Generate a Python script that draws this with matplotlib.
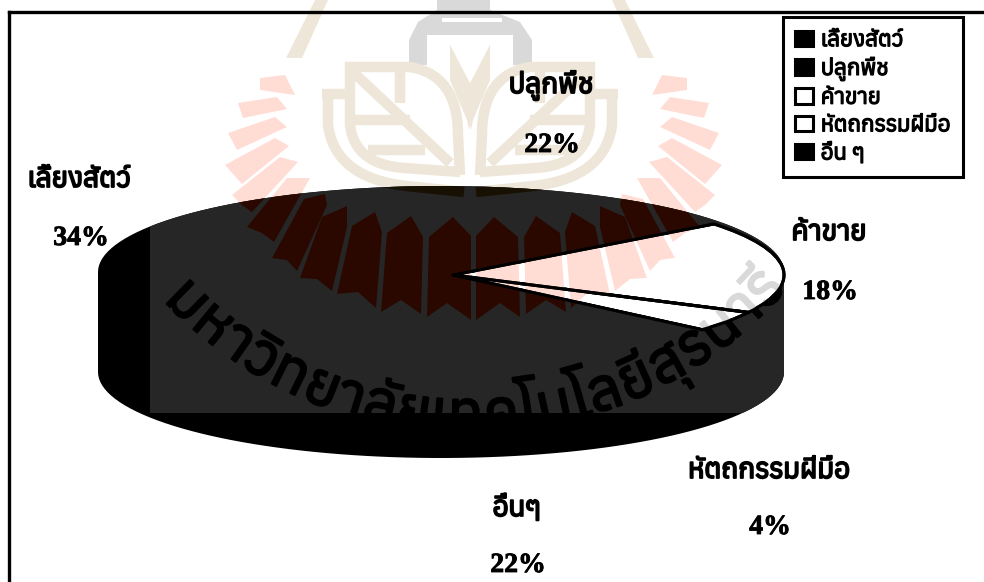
import numpy as np
import matplotlib
matplotlib.use('Agg')
import matplotlib.pyplot as plt
import matplotlib.patheffects as pe
from matplotlib import font_manager as fm
from matplotlib.ft2font import FT2Font
from matplotlib.patches import PathPatch, Polygon, Rectangle
from matplotlib.path import Path
from matplotlib.textpath import text_to_path
from matplotlib.transforms import Affine2D

# data
categories = ['เลี้ยงสัตว์', 'ปลูกพืช', 'ค้าขาย', 'หัตถกรรมฝีมือ', 'อื่น ๆ']
shares = [34, 22, 18, 4, 22]
colors = ['black', 'black', 'white', 'white', 'black']
name_labels = ['เลี้ยงสัตว์', 'ปลูกพืช', 'ค้าขาย', 'หัตถกรรมฝีมือ', 'อื่นๆ']
pct_labels = ['34%', '22%', '18%', '4%', '22%']
watermark = ['ม', 'ห', 'า', 'วิ', 'ท', 'ย', 'า', 'ลั', 'ย', 'เ', 'ท', 'ค', 'โ', 'น', 'โ', 'ล', 'ยี', 'สุ', 'ร', 'น', 'า', 'รี']

# a Thai font if there is one, the serif otherwise
thai = []
for f in fm.fontManager.ttflist:
    try:
        if 0x0E40 in FT2Font(f.fname).get_charmap():
            thai.append(f.name)
    except Exception:
        pass
thai = sorted(set(thai))[:1]
plt.rcParams['font.family'] = thai + ['Liberation Serif', 'DejaVu Sans']

fig = plt.figure(figsize=(9.84, 5.82), dpi=100)
ax = fig.add_axes([0, 0, 1, 1])

# pie drawn on a unit circle, then squashed into the ellipse of the top face
wedges, _ = ax.pie(shares, colors=colors, startangle=239.6, counterclock=False,
                   wedgeprops={'edgecolor': 'black', 'linewidth': 2.2})
squeeze = Affine2D().scale(331, -83).translate(453, 275)
squash = squeeze + ax.transData
for w, c in zip(wedges, colors):
    w.set_transform(squash)
    w.set_zorder(0.5 if c == 'white' else 2)
ax.set_aspect('auto')
ax.set_xlim(0, 984)
ax.set_ylim(582, 0)
ax.set_axis_off()


def area(p):
    x, y = p[:, 0], p[:, 1]
    return np.dot(x[:-1], y[1:]) - np.dot(x[1:], y[:-1])


# drum body, with the white slices cut out so the light watermark shows through them
t = np.linspace(np.pi, 2 * np.pi, 80)
top = np.c_[441 + 343 * np.cos(t), 272 + 86 * np.sin(t)]
bot = np.c_[441 + 343 * np.cos(t[::-1]), 372 - 86 * np.sin(t[::-1])]
shell = np.r_[top, bot, top[:1]]
parts = [Path(shell, closed=True)]
for w, c in zip(wedges, colors):
    if c == 'white':
        for poly in squeeze.transform_path(w.get_path()).to_polygons():
            # slice edge stays above the watermark
            ax.plot(poly[:, 0], poly[:, 1], color='black', lw=2.2, zorder=7)
            if np.sign(area(poly)) == np.sign(area(shell)):
                poly = poly[::-1]
            parts.append(Path(poly, closed=True))
body = PathPatch(Path.make_compound_path(*parts), fc='black', ec='none', zorder=2)
ax.add_patch(body)
shade = Rectangle((150, 0), 700, 413, fc='#262626', ec='none', zorder=3)
ax.add_patch(shade)
shade.set_clip_path(body)

# logo of the scan watermark
rays = [
    [(260, 78), (285, 75), (295, 95), (260, 90)],
    [(238, 103), (277, 97), (287, 109), (243, 118)],
    [(228, 133), (275, 117), (287, 127), (237, 150)],
    [(225, 165), (275, 138), (289, 146), (242, 184)],
    [(232, 195), (280, 157), (298, 162), (252, 212), (242, 205)],
    [(247, 227), (287, 178), (310, 178), (274, 242), (262, 233)],
    [(304, 199), (325, 194), (327, 205), (297, 271), (287, 260), (272, 258)],
    [(322, 217), (347, 206), (347, 227), (332, 291), (317, 279), (300, 278)],
    [(352, 226), (375, 212), (382, 232), (376, 308), (358, 292), (337, 294)],
    [(387, 233), (411, 216), (423, 237), (421, 314), (401, 300), (381, 312)],
    [(429, 237), (453, 217), (471, 236), (471, 320), (447, 303), (427, 317)],
]
spike = [(450, 45), (469, 85), (490, 45), (490, 80), (473, 120), (471, 130), (469, 120), (450, 80)]
roof = [(286, 58), (302, 58), (328, 0), (315, 0)]
bottle = [(437, 0), (490, 0), (490, 10), (520, 22), (532, 40), (532, 65), (513, 65), (513, 35),
          (427, 35), (427, 65), (409, 65), (409, 40), (418, 22), (437, 10)]
slit = [(442, 18), (502, 18), (502, 22), (442, 22)]


def bend(p0, c, p1):
    s = np.linspace(0, 1, 20)[:, None]
    return (1 - s) ** 2 * np.array(p0) + 2 * s * (1 - s) * np.array(c) + s ** 2 * np.array(p1)


leaf_lines = [
    np.array([(322, 94), (345, 94)], float),
    np.r_[[(328, 94)], bend((328, 125), (335, 178), (407, 186)), [(464, 192)]],
    np.r_[[(345, 67), (410, 67)], bend((410, 67), (458, 75), (458, 135)), [(460, 175)]],
    np.r_[[(350, 62)], bend((350, 125), (355, 165), (405, 168)), [(460, 172)]],
    np.array([(353, 72), (450, 163)], float),
    np.array([(355, 120), (410, 120)], float),
    np.array([(368, 150), (425, 150)], float),
    np.array([(400, 72), (400, 103)], float),
]

# arc of the university name, spaced by the width of each character
fp = fm.FontProperties(family=plt.rcParams['font.family'], size=42)
widths = np.array([text_to_path.get_text_width_height_descent(ch, fp, False)[0] for ch in watermark])
edges = np.r_[0, np.cumsum(widths)]
mids = (edges[:-1] + edges[1:]) / 2
arc_angles = -47 + 96 * mids / edges[-1]


def draw_logo(z, red, tan, gray, clip=None, white=None):
    items = []
    for r in rays:
        p = np.array(r, float)
        items.append(Polygon(p, fc=red, ec='none', zorder=z))
        q = p.copy()
        q[:, 0] = 947 - q[:, 0]
        items.append(Polygon(q, fc=red, ec='none', zorder=z))
    items.append(Polygon(bottle, fc=gray, ec='none', zorder=z))
    items.append(Polygon(slit, fc=white, ec='none', zorder=z))
    for r in [roof, spike]:
        p = np.array(r, float)
        items.append(Polygon(p, fc=tan, ec='none', zorder=z))
        q = p.copy()
        q[:, 0] = 940 - q[:, 0]
        items.append(Polygon(q, fc=tan, ec='none', zorder=z))
    for a in items:
        ax.add_patch(a)
        if clip is not None:
            a.set_clip_path(clip)
    for p in leaf_lines:
        for xs in (p[:, 0], 940 - p[:, 0]):
            l, = ax.plot(xs, p[:, 1], color=tan, lw=7.5, solid_joinstyle='round', solid_capstyle='butt', zorder=z)
            if clip is not None:
                l.set_clip_path(clip)
    # path effects make the text go through draw_path, so the clip path holds
    for ch, a in zip(watermark, arc_angles):
        rad = np.radians(a)
        txt = ax.text(470 + 420 * np.sin(rad), 13 + 420 * np.cos(rad), ch, fontproperties=fp, color=gray,
                      rotation=a, rotation_mode='anchor', ha='center', va='baseline', zorder=z,
                      path_effects=[pe.withStroke(linewidth=1.6, foreground=gray)])
        if clip is not None:
            txt.set_clip_on(True)
            txt.set_clip_path(clip)


draw_logo(1, '#ffddd5', '#eee6d8', '#d9d9d9', white='white')
draw_logo(4, '#2a0800', '#171003', 'black', clip=body, white='#262626')

heavy = [pe.withStroke(linewidth=1.3, foreground='black')]

# slice labels
name_xy = [(79, 187), (551, 93), (829, 240), (769, 478), (517, 516)]
pct_xy = [(81, 245), (552, 152), (830, 299), (770, 534), (518, 572)]
for s, (x, y) in zip(name_labels, name_xy):
    ax.text(x, y, s, fontsize=20, fontweight='bold', ha='center', va='baseline', zorder=10, path_effects=heavy)
for s, (x, y) in zip(pct_labels, pct_xy):
    ax.text(x, y, s, fontsize=20, fontweight='bold', ha='center', va='baseline', zorder=10,
            family='Liberation Serif', path_effects=[pe.withStroke(linewidth=0.6, foreground='black')])

# page frame from the scan
ax.plot([9, 984], [12, 12], color='black', lw=2.4, zorder=9)
ax.plot([9, 9], [12, 582], color='black', lw=2.4, zorder=9)

leg = ax.legend(wedges, categories, loc='upper left', bbox_to_anchor=(783, 17), bbox_transform=ax.transData,
                borderaxespad=0, fancybox=False, framealpha=1, edgecolor='black',
                prop={'weight': 'bold', 'size': 16}, handlelength=0.8, handleheight=0.7, handletextpad=0.35,
                labelspacing=0.25, borderpad=0.55)
leg.get_frame().set_linewidth(2.2)
leg.set_zorder(10)
for txt in leg.get_texts():
    txt.set_path_effects([pe.withStroke(linewidth=0.9, foreground='black')])

fig.savefig('out.png', dpi=100)
